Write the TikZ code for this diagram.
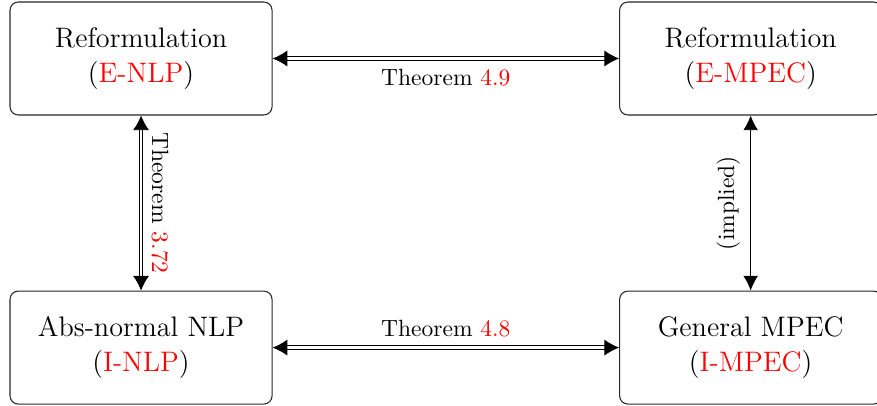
\documentclass[tikz,border=0pt]{standalone}
\usepackage{xcolor}
\usetikzlibrary{arrows.meta}

\begin{document}
\begin{tikzpicture}[
problem/.style={draw=black!85,line width=0.45pt,rounded corners=3.5pt,align=center,minimum width=3.92cm,
minimum height=1.69cm,font=\large,inner sep=3pt},
equiv/.style={{Latex[length=2.2mm,width=2.4mm]}-{Latex[length=2.2mm,width=2.4mm]},double,double distance=1.2pt},
implied/.style={{Latex[length=2.2mm,width=2.2mm]}-{Latex[length=2.2mm,width=2.2mm]}}]
\useasboundingbox (0,0) rectangle (13.12,-6.06);
\node[problem] (enlp) at (2.11,-0.875) {Reformulation\\[1pt](\textcolor{red}{E-NLP})};
\node[problem] (empec) at (11.23,-0.875) {Reformulation\\[1pt](\textcolor{red}{E-MPEC})};
\node[problem] (inlp) at (2.11,-5.2) {Abs-normal NLP\\[1pt](\textcolor{red}{I-NLP})};
\node[problem] (impec) at (11.23,-5.2) {General MPEC\\[1pt](\textcolor{red}{I-MPEC})};
\draw[equiv] (enlp) -- (empec) node[midway,below=1pt] {Theorem \textcolor{red}{4.9}};
\draw[equiv] (inlp) -- (impec) node[midway,above=1pt] {Theorem \textcolor{red}{4.8}};
\draw[equiv] (enlp) -- (inlp) node[midway,rotate=-90,anchor=south,yshift=1pt] {Theorem \textcolor{red}{3.72}};
\draw[implied] (impec) -- (empec) node[midway,rotate=90,anchor=south,yshift=1pt] {(implied)};
\end{tikzpicture}
\end{document}
